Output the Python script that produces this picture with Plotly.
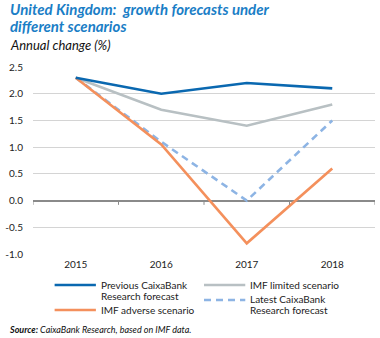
import plotly.graph_objects as go

# Series data (annual % change)
years = ["2015", "2016", "2017", "2018"]
prev_caixa = [2.3, 2.0, 2.2, 2.1]
imf_limited = [2.3, 1.7, 1.4, 1.8]
imf_adverse = [2.3, 1.05, -0.8, 0.6]
latest_caixa = [2.3, 1.1, 0.0, 1.5]

y_ticks = [2.5, 2.0, 1.5, 1.0, 0.5, 0.0, -0.5, -1.0]

series = {
    "prev": (["Previous CaixaBank", "Research forecast"], prev_caixa, "#0a68b0", "solid"),
    "limited": (["IMF limited scenario"], imf_limited, "#b8c0c3", "solid"),
    "adverse": (["IMF adverse scenario"], imf_adverse, "#f4905c", "solid"),
    "latest": (["Latest CaixaBank", "Research forecast"], latest_caixa, "#8db4e4", "7px,5px"),
}

FONT = "Lato"
xpos = list(range(len(years)))

fig = go.Figure()
for key in ["limited", "latest", "adverse", "prev"]:
    name, vals, color, dash = series[key]
    fig.add_trace(go.Scatter(
        x=xpos, y=vals, mode="lines", name=" ".join(name),
        line=dict(color=color, width=2.6, dash=dash),
        showlegend=False, hoverinfo="skip",
    ))

W, H = 380, 338
ml, mr, mt, mb = 27, 5, 67, 84
PW, PH = W - ml - mr, H - mt - mb

fig.update_layout(
    width=W, height=H,
    margin=dict(l=ml, r=mr, t=mt, b=mb),
    paper_bgcolor="white", plot_bgcolor="white",
    font=dict(family=FONT, size=10, color="#222"),
    xaxis=dict(
        range=[-0.5, 3.5], tickvals=xpos, ticktext=years,
        showgrid=False, zeroline=False, showline=False,
        ticks="", ticklabelstandoff=3, fixedrange=True,
        tickfont=dict(size=10, color="#222"),
    ),
    yaxis=dict(
        range=[-1.0, 2.5], tickvals=y_ticks,
        ticktext=[f"{v:.1f}" for v in y_ticks],
        showgrid=True, gridcolor="#d4d4d4", gridwidth=1,
        zeroline=True, zerolinecolor="#8a8a8a", zerolinewidth=1.5,
        showline=False, ticks="", ticklabelstandoff=9,
        tickfont=dict(size=10, color="#222"), fixedrange=True,
    ),
)

# small tick marks on the zero line at category boundaries
for b in [-0.5, 0.5, 1.5, 2.5, 3.5]:
    fig.add_shape(type="line", xref="x", yref="y", x0=b, x1=b, y0=0, y1=-0.08,
                  line=dict(color="#8a8a8a", width=1))


def fx(p):
    return (p - ml) / PW


def fy(p):
    return 1 - (p - mt) / PH


def label(x, y, text, size, color="#222"):
    fig.add_annotation(
        xref="paper", yref="paper", x=fx(x), y=fy(y),
        xanchor="left", yanchor="middle", align="left", showarrow=False,
        borderpad=0, text=text, font=dict(family=FONT, size=size, color=color),
    )


# Title, subtitle and source
label(3, 9.5, "<b><i>United Kingdom:  growth forecasts under</i></b>", 15, "#1a7ec6")
label(3, 26, "<b><i>different scenarios</i></b>", 15, "#1a7ec6")
label(3, 45, "<i>Annual change (%)</i>", 13, "#111")
label(2, 329, "<b><i>Source:</i></b><i> CaixaBank Research, based on IMF data.</i>", 9, "#111")

# Legend in two columns beneath the axis: (line x0, line y, first text line centre)
legend_pos = {
    "prev": (49, 285, 285),
    "limited": (201, 285, 285),
    "adverse": (49, 310, 310),
    "latest": (201, 300, 299),
}
for key, (lx, ly, ty) in legend_pos.items():
    name, vals, color, dash = series[key]
    fig.add_shape(type="line", xref="paper", yref="paper",
                  x0=fx(lx), x1=fx(lx + 42), y0=fy(ly), y1=fy(ly),
                  line=dict(color=color, width=2.6, dash=dash))
    for i, line_txt in enumerate(name):
        label(lx + 46, ty + 11 * i, line_txt, 10)

fig.write_html("out.html")
